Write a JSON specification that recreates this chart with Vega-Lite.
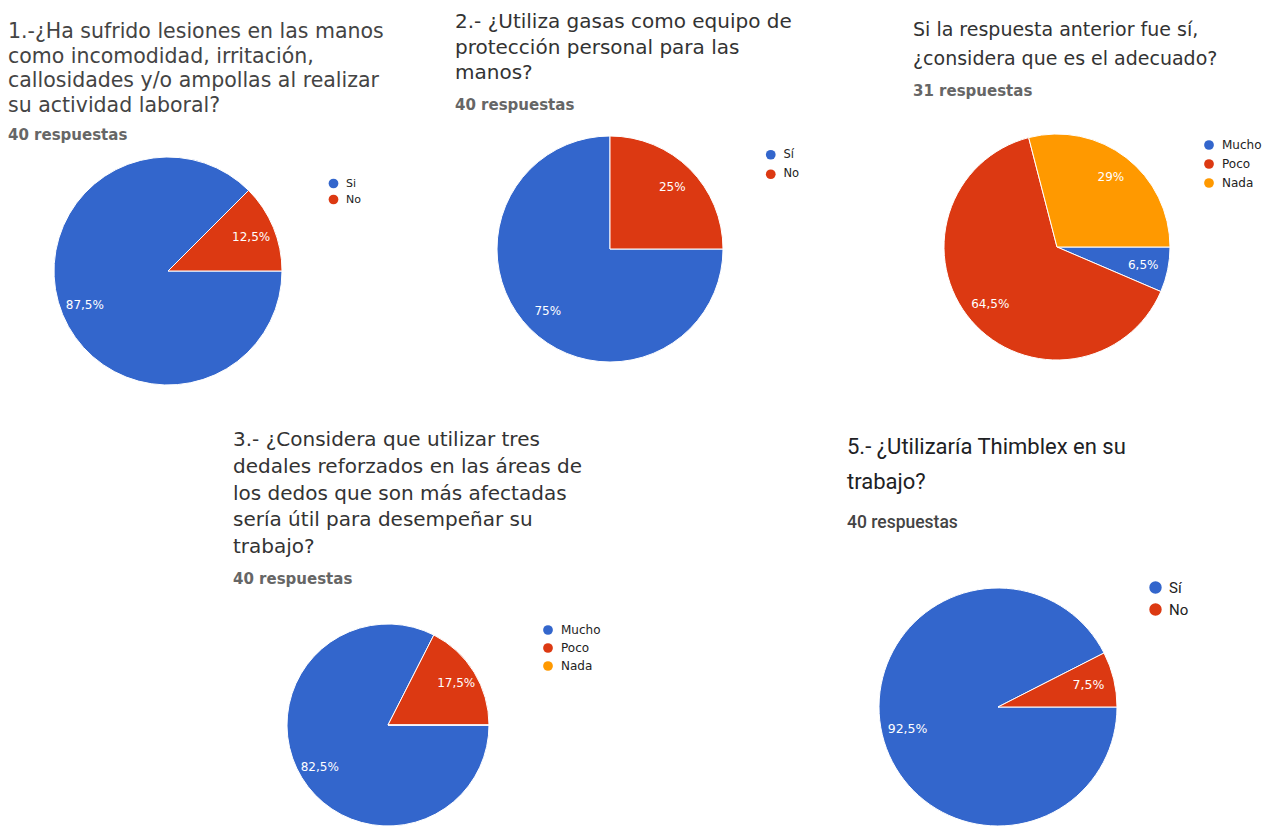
{
  "$schema": "https://vega.github.io/schema/vega-lite/v6.json",
  "background": "white",
  "padding": {"left": 8, "top": 12, "right": 0, "bottom": 0},
  "bounds": "flush",
  "spacing": 490,
  "config": {"view": {"stroke": null}},
  "resolve": {"scale": {"color": "independent", "theta": "independent"}, "legend": {"color": "independent"}},
  "vconcat": [
    {
      "bounds": "flush",
      "spacing": 0,
      "resolve": {"scale": {"color": "independent", "theta": "independent"}, "legend": {"color": "independent"}},
      "hconcat": [
        {
          "width": 320, "height": 242,
          "title": {"text": ["1.-¿Ha sufrido lesiones en las manos", "como incomodidad, irritación,", "callosidades y/o ampollas al realizar", "su actividad laboral?"], "subtitle": "40 respuestas", "anchor": "start", "frame": "group", "font": "DejaVu Sans", "fontSize": 20.5, "fontWeight": "normal", "color": "#444", "lineHeight": 24.5, "subtitleFont": "DejaVu Sans", "subtitleFontSize": 15, "subtitleFontWeight": "bold", "subtitleColor": "#666", "subtitlePadding": 12, "offset": 7, "dx": 0},
          "data": {"values": [
            {"respuesta": "Si", "n": 35, "pct": "87,5%", "orden": 1},
            {"respuesta": "No", "n": 5, "pct": "12,5%", "orden": 2}
          ]},
          "encoding": {
            "theta": {"field": "n", "type": "quantitative", "stack": true, "scale": {"range": [1.5707963, 7.8539816]}},
            "order": {"field": "orden", "type": "quantitative"},
            "color": {"field": "respuesta", "type": "nominal", "scale": {"domain": ["Si", "No"], "range": ["#3366cc", "#dc3912"]},
              "legend": {"title": null, "orient": "none", "legendX": 320, "legendY": 28, "symbolType": "circle", "symbolSize": 95, "symbolStrokeWidth": 0, "labelFont": "DejaVu Sans", "labelFontSize": 11, "labelColor": "#222", "rowPadding": 4, "labelOffset": 7, "padding": 0}}
          },
          "layer": [
            {"mark": {"type": "arc", "radius": 114, "stroke": "white", "strokeWidth": 1}},
            {"transform": [{"filter": "datum.n > 0"}], "mark": {"type": "text", "radius": 90, "font": "DejaVu Sans", "fontSize": 12},
             "encoding": {"text": {"field": "pct"}, "color": {"value": "white"}, "detail": {"field": "respuesta", "type": "nominal"}}}
          ]
        },
        {
          "width": 564, "height": 198,
          "title": {"text": ["2.- ¿Utiliza gasas como equipo de", "protección personal para las", "manos?"], "subtitle": "40 respuestas", "anchor": "start", "frame": "group", "font": "DejaVu Sans", "fontSize": 20, "fontWeight": "normal", "color": "#333", "lineHeight": 25.5, "subtitleFont": "DejaVu Sans", "subtitleFontSize": 15, "subtitleFontWeight": "bold", "subtitleColor": "#666", "subtitlePadding": 15, "offset": 21, "dx": 127},
          "data": {"values": [
            {"respuesta": "Sí", "n": 30, "pct": "75%", "orden": 1},
            {"respuesta": "No", "n": 10, "pct": "25%", "orden": 2}
          ]},
          "encoding": {
            "theta": {"field": "n", "type": "quantitative", "stack": true, "scale": {"range": [1.5707963, 7.8539816]}},
            "order": {"field": "orden", "type": "quantitative"},
            "color": {"field": "respuesta", "type": "nominal", "scale": {"domain": ["Sí", "No"], "range": ["#3366cc", "#dc3912"]},
              "legend": {"title": null, "orient": "none", "legendX": 437, "legendY": -1, "symbolType": "circle", "symbolSize": 95, "symbolStrokeWidth": 0, "labelFont": "DejaVu Sans", "labelFontSize": 11.5, "labelColor": "#222", "rowPadding": 6.5, "labelOffset": 7, "padding": 0}}
          },
          "layer": [
            {"mark": {"type": "arc", "radius": 113, "stroke": "white", "strokeWidth": 1}},
            {"transform": [{"filter": "datum.n > 0"}], "mark": {"type": "text", "radius": 88, "font": "DejaVu Sans", "fontSize": 12},
             "encoding": {"text": {"field": "pct"}, "color": {"value": "white"}, "detail": {"field": "respuesta", "type": "nominal"}}}
          ]
        },
        {
          "width": 330, "height": 194,
          "title": {"text": ["Si la respuesta anterior fue sí,", "¿considera que es el adecuado?"], "subtitle": "31 respuestas", "anchor": "start", "frame": "group", "font": "DejaVu Sans", "fontSize": 19, "fontWeight": "normal", "color": "#333", "lineHeight": 29, "subtitleFont": "DejaVu Sans", "subtitleFontSize": 15, "subtitleFontWeight": "bold", "subtitleColor": "#666", "subtitlePadding": 15, "offset": 33, "dx": 21},
          "data": {"values": [
            {"respuesta": "Mucho", "n": 2, "pct": "6,5%", "orden": 1},
            {"respuesta": "Poco", "n": 20, "pct": "64,5%", "orden": 2},
            {"respuesta": "Nada", "n": 9, "pct": "29%", "orden": 3}
          ]},
          "encoding": {
            "theta": {"field": "n", "type": "quantitative", "stack": true, "scale": {"range": [1.5707963, 7.8539816]}},
            "order": {"field": "orden", "type": "quantitative"},
            "color": {"field": "respuesta", "type": "nominal", "scale": {"domain": ["Mucho", "Poco", "Nada"], "range": ["#3366cc", "#dc3912", "#ff9900"]},
              "legend": {"title": null, "orient": "none", "legendX": 311, "legendY": -11, "symbolType": "circle", "symbolSize": 95, "symbolStrokeWidth": 0, "labelFont": "DejaVu Sans", "labelFontSize": 12, "labelColor": "#222", "rowPadding": 7, "labelOffset": 7, "padding": 0}}
          },
          "layer": [
            {"mark": {"type": "arc", "radius": 113, "stroke": "white", "strokeWidth": 1}},
            {"transform": [{"filter": "datum.n > 0"}], "mark": {"type": "text", "radius": 88, "font": "DejaVu Sans", "fontSize": 12},
             "encoding": {"text": {"field": "pct"}, "color": {"value": "white"}, "detail": {"field": "respuesta", "type": "nominal"}}}
          ]
        }
      ]
    },
    {
      "bounds": "flush",
      "spacing": 0,
      "resolve": {"scale": {"color": "independent", "theta": "independent"}, "legend": {"color": "independent"}},
      "hconcat": [
        {
          "width": 760, "height": 170,
          "title": {"text": ["3.- ¿Considera que utilizar tres", "dedales reforzados en las áreas de", "los dedos que son más afectadas", "sería útil para desempeñar su", "trabajo?"], "subtitle": "40 respuestas", "anchor": "start", "frame": "group", "font": "DejaVu Sans", "fontSize": 20, "fontWeight": "normal", "color": "#333", "lineHeight": 26.75, "subtitleFont": "DejaVu Sans", "subtitleFontSize": 15, "subtitleFontWeight": "bold", "subtitleColor": "#666", "subtitlePadding": 15, "offset": 35, "dx": 225},
          "data": {"values": [
            {"respuesta": "Mucho", "n": 33, "pct": "82,5%", "orden": 1},
            {"respuesta": "Poco", "n": 7, "pct": "17,5%", "orden": 2},
            {"respuesta": "Nada", "n": 0, "pct": "0%", "orden": 3}
          ]},
          "encoding": {
            "theta": {"field": "n", "type": "quantitative", "stack": true, "scale": {"range": [1.5707963, 7.8539816]}},
            "order": {"field": "orden", "type": "quantitative"},
            "color": {"field": "respuesta", "type": "nominal", "scale": {"domain": ["Mucho", "Poco", "Nada"], "range": ["#3366cc", "#dc3912", "#ff9900"]},
              "legend": {"title": null, "orient": "none", "legendX": 534, "legendY": -16, "symbolType": "circle", "symbolSize": 95, "symbolStrokeWidth": 0, "labelFont": "DejaVu Sans", "labelFontSize": 12, "labelColor": "#222", "rowPadding": 6, "labelOffset": 7, "padding": 0}}
          },
          "layer": [
            {"mark": {"type": "arc", "radius": 101, "stroke": "white", "strokeWidth": 1}},
            {"transform": [{"filter": "datum.n > 0"}], "mark": {"type": "text", "radius": 80, "font": "DejaVu Sans", "fontSize": 12},
             "encoding": {"text": {"field": "pct"}, "color": {"value": "white"}, "detail": {"field": "respuesta", "type": "nominal"}}}
          ]
        },
        {
          "width": 460, "height": 134,
          "title": {"text": ["5.- ¿Utilizaría Thimblex en su", "trabajo?"], "subtitle": "40 respuestas", "anchor": "start", "frame": "group", "font": "Roboto", "fontSize": 22, "fontWeight": "normal", "color": "#202124", "lineHeight": 35, "subtitleFont": "Roboto", "subtitleFontSize": 17.5, "subtitleFontWeight": 500, "subtitleColor": "#444", "subtitlePadding": 20, "offset": 48, "dx": 79},
          "data": {"values": [
            {"respuesta": "Sí", "n": 37, "pct": "92,5%", "orden": 1},
            {"respuesta": "No", "n": 3, "pct": "7,5%", "orden": 2}
          ]},
          "encoding": {
            "theta": {"field": "n", "type": "quantitative", "stack": true, "scale": {"range": [1.5707963, 7.8539816]}},
            "order": {"field": "orden", "type": "quantitative"},
            "color": {"field": "respuesta", "type": "nominal", "scale": {"domain": ["Sí", "No"], "range": ["#3366cc", "#dc3912"]},
              "legend": {"title": null, "orient": "none", "legendX": 380, "legendY": -60, "symbolType": "circle", "symbolSize": 154, "symbolStrokeWidth": 0, "labelFont": "Roboto", "labelFontSize": 15, "labelColor": "#222", "rowPadding": 6, "labelOffset": 6, "padding": 0}}
          },
          "layer": [
            {"mark": {"type": "arc", "radius": 119, "stroke": "white", "strokeWidth": 1}},
            {"transform": [{"filter": "datum.n > 0"}], "mark": {"type": "text", "radius": 93, "font": "DejaVu Sans", "fontSize": 12.5},
             "encoding": {"text": {"field": "pct"}, "color": {"value": "white"}, "detail": {"field": "respuesta", "type": "nominal"}}}
          ]
        }
      ]
    }
  ]
}
